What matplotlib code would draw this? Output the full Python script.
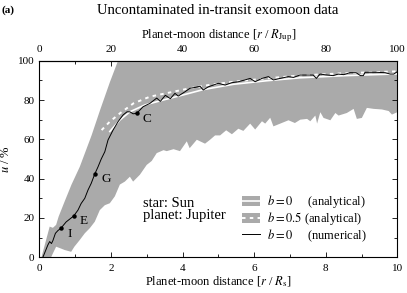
import numpy as np
import matplotlib
matplotlib.use("Agg")
import matplotlib.pyplot as plt
from matplotlib.patches import Patch
from matplotlib.lines import Line2D
from matplotlib.ticker import MultipleLocator, FixedLocator

plt.rcParams['font.family'] = ['Liberation Serif', 'DejaVu Serif']
plt.rcParams['mathtext.fontset'] = 'stix'

# Gray band (b=0 analytical range): upper and lower edges
upper_x = [0.06, 0.29, 0.38, 0.47, 0.54, 0.71, 0.9, 1.13, 1.46, 1.7, 1.97, 2.2, 10.0]
upper_y = [0, 15.6, 15, 16.5, 20.7, 28.5, 37, 46, 62, 75, 89, 100, 100]
lower_x = [0.33, 0.38, 0.47, 0.6, 0.71, 0.89, 0.98, 1.13, 1.27, 1.41, 1.55, 1.69, 1.83, 1.97,
           2.11, 2.25, 2.39, 2.53, 2.62, 2.81, 3.0, 3.14, 3.28, 3.47, 3.56, 3.75, 3.93, 4.12,
           4.2, 4.4, 4.49, 4.63, 4.77, 4.91, 5.05, 5.22, 5.38, 5.56, 5.70, 5.89, 6.03, 6.22,
           6.31, 6.45, 6.54, 6.73, 6.96, 7.14, 7.29, 7.48, 7.57, 7.71, 7.76, 7.85, 7.94, 8.13,
           8.27, 8.36, 8.59, 8.78, 8.87, 9.01, 9.15, 9.34, 9.57, 9.76, 9.85, 10.0]
lower_y = [0, 2, 5.4, 4.5, 3.7, 2.8, 5.4, 8.8, 12.2, 14.8, 18.1, 24, 26.5, 27.5,
           31, 37, 38.5, 41, 38.5, 42, 47, 49, 53, 54.5, 54, 55, 54, 59,
           55.5, 59.8, 59, 57.8, 59.8, 62, 62, 64.6, 62.6, 65.4, 64.3, 68, 65, 69.2,
           68, 71, 66.6, 68, 69.7, 68.3, 70, 70.4, 69.2, 72.1, 68, 73.8, 70.9, 69.7,
           73.4, 72.1, 73.4, 75.5, 70.4, 70.9, 76, 75.5, 75.2, 74.4, 72.6, 73.8]

# b = 0 numerical
num_x = [0.1, 0.24, 0.29, 0.34, 0.38, 0.45, 0.52, 0.6, 0.75, 0.96, 1.08, 1.17, 1.27, 1.36,
         1.45, 1.55, 1.64, 1.73, 1.83, 1.92, 2.06, 2.2, 2.34, 2.45, 2.53, 2.62, 2.72, 2.9,
         3.09, 3.28, 3.38, 3.52, 3.66, 3.79, 3.88, 4.07, 4.21, 4.35, 4.49, 4.58, 4.72, 4.86,
         5.0, 5.19, 5.37, 5.56, 5.74, 5.89, 6.03, 6.22, 6.4, 6.54, 6.73, 6.96, 7.1, 7.28,
         7.42, 7.65, 7.74, 7.84, 8.0, 8.21, 8.35, 8.5, 8.68, 8.85, 8.97, 9.05, 9.1, 9.4,
         9.66, 9.8, 9.9, 10.0]
num_y = [0, 6.3, 8, 7, 8.5, 12.2, 13.6, 14.7, 18, 21, 24, 27.4, 30, 34.2,
         37.6, 42.4, 46, 50, 53.7, 59.7, 64.7, 69, 72.4, 74, 74, 73, 73.2, 76.6,
         78.3, 81, 79.3, 82.4, 80.7, 83.4, 82, 84.2, 86, 86.4, 87, 85.1, 86.7, 87.6,
         88.5, 87.6, 88.8, 89.3, 90.2, 91, 89.3, 91, 91.9, 90.2, 91, 91.9, 91.5, 92.7,
         92.7, 92.7, 91, 93.2, 92.8, 92.4, 93.2, 92.9, 93.9, 93.9, 92.4, 92.4, 94.1, 94.1,
         93.9, 93.2, 93.2, 94.4]

# b = 0 analytical (white solid) and b = 0.5 analytical (white dashed)
ana0_x = [1.97, 2.25, 2.53, 2.95, 3.46, 4.02, 4.58, 5.42, 6.35, 7.28, 8.54, 10.0]
ana0_y = [64, 69.8, 74, 77.5, 80, 82.6, 85.3, 88, 89.8, 91.3, 92.4, 93.3]
ana05_x = [1.74, 1.97, 2.25, 2.63, 3.09, 3.74, 4.21, 4.72, 5.42, 6.35, 7.28, 8.5, 10.0]
ana05_y = [64.7, 69, 73.2, 78.3, 81.7, 84.2, 86, 87.6, 89.3, 91, 92.5, 93.6, 94.6]

# Marked moons
moon_labels = ['I', 'E', 'G', 'C']
moon_x = [0.6, 0.96, 1.55, 2.72]
moon_y = [14.7, 21, 42.4, 73.2]

# Axis ticks
bottom_ticks = [0, 2, 4, 6, 8, 10]
top_ticks = [0, 20, 40, 60, 80, 100]
top_minor = [10, 30, 50, 70, 90]

gray = '#aaaaaa'

fig = plt.figure(figsize=(4.07, 2.93), dpi=100)
ax = fig.add_axes([39.3 / 407, 1 - 257.3 / 293, 358 / 407, 196.6 / 293])

poly_x = np.concatenate([upper_x, lower_x[::-1]])
poly_y = np.concatenate([upper_y, lower_y[::-1]])
ax.fill(poly_x, poly_y, color=gray, lw=0, zorder=1)

ax.plot(ana0_x, ana0_y, color='white', lw=1.2, zorder=2)
ax.plot(ana05_x, ana05_y, color='white', lw=1.4, dashes=(1.8, 2.2), zorder=2)
ax.plot(num_x, num_y, color='black', lw=0.7, zorder=3)
ax.plot(moon_x, moon_y, 'o', color='black', ms=2.2, zorder=4)
for lab, mx, my in zip(moon_labels, moon_x, moon_y):
    ax.annotate(lab, (mx, my), xytext=(4.5, -3.8), textcoords='offset points',
                ha='left', va='center', fontsize=9.5)

ax.set_xlim(0, 10)
ax.set_ylim(0, 100)
ax.xaxis.set_major_locator(FixedLocator(bottom_ticks))
ax.xaxis.set_minor_locator(MultipleLocator(1))
ax.yaxis.set_major_locator(MultipleLocator(20))
ax.yaxis.set_minor_locator(MultipleLocator(10))
ax.tick_params(which='both', direction='in', right=True, top=False, labelsize=8)
ax.tick_params(which='major', length=3.5, width=0.6)
ax.tick_params(which='minor', length=2.5, width=0.6)
ax.tick_params(axis='x', which='both', pad=5)
for s in ax.spines.values():
    s.set_linewidth(0.8)

ax.set_xlabel(r'Planet-moon distance [$r$ / $R_{\rm s}$]', fontsize=9, labelpad=1)
ax.set_ylabel(r'$u$ / %', fontsize=9, labelpad=4)

sec = ax.secondary_xaxis('top', functions=(lambda x: x * 10, lambda x: x / 10))
sec.xaxis.set_major_locator(FixedLocator(top_ticks))
sec.xaxis.set_minor_locator(FixedLocator(top_minor))
sec.tick_params(which='both', direction='in', labelsize=8, pad=5)
sec.tick_params(which='major', length=3.5, width=0.6)
sec.tick_params(which='minor', length=2.5, width=0.6)
sec.set_xlabel(r'Planet-moon distance [$r$ / $R_{\rm Jup}$]', fontsize=9, labelpad=5)

ax.text(2.9, 24.3, 'star: Sun\nplanet: Jupiter', fontsize=10.5, ha='left', va='center',
        linespacing=0.9)

h1 = (Patch(facecolor=gray, edgecolor='none'), Line2D([], [], color='white', lw=1.2))
h2 = (Patch(facecolor=gray, edgecolor='none'), Line2D([], [], color='white', lw=1.4, dashes=(1.8, 2.2)))
h3 = Line2D([], [], color='black', lw=0.7)
leg = ax.legend([h1, h2, h3],
                [r'$b = 0$     (analytical)', r'$b = 0.5$ (analytical)', r'$b = 0$     (numerical)'],
                loc='lower left', bbox_to_anchor=(0.565, 0.07), frameon=False, fontsize=9,
                handlelength=1.5, handleheight=0.8, handletextpad=0.55, labelspacing=0.0,
                borderaxespad=0.0, borderpad=0.0)

fig.text(218 / 407, 1 - 10 / 293, 'Uncontaminated in-transit exomoon data', fontsize=10.6,
         ha='center', va='center')
fig.text(2 / 407, 1 - 10 / 293, '(a)', fontsize=8, fontweight='bold', ha='left', va='center')

fig.savefig('out.png', dpi=100)
